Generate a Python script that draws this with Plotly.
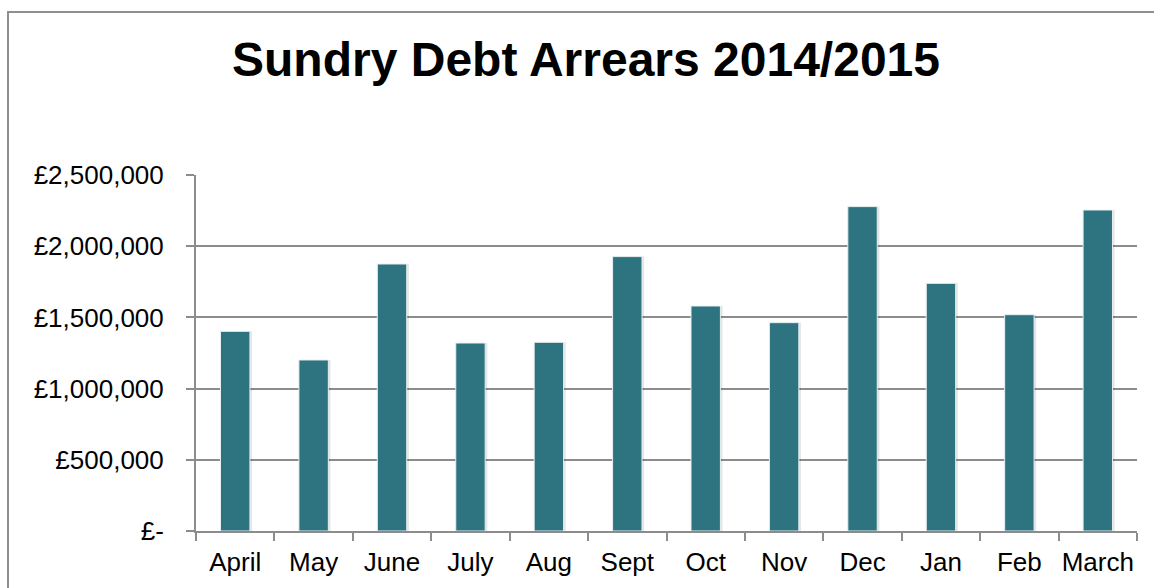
import plotly.graph_objects as go

# Monthly sundry debt arrears, financial year 2014/15
months = ["April", "May", "June", "July", "Aug", "Sept", "Oct", "Nov",
          "Dec", "Jan", "Feb", "March"]
arrears = [1402000, 1201000, 1875000, 1320000, 1325000, 1927000,
           1580000, 1463000, 2278000, 1739000, 1519000, 2254000]

y_ticks = [0, 500000, 1000000, 1500000, 2000000, 2500000]
y_tick_text = ["£-", "£500,000", "£1,000,000", "£1,500,000",
               "£2,000,000", "£2,500,000"]

W, H = 1154, 588
L, R, T, B = 196, 17, 175, 57

FONT = "Liberation Sans, Arial, sans-serif"
BAR = "#2E7480"
AXIS = "#8C8C8C"

fig = go.Figure()

# soft drop shadow behind each column
fig.add_trace(go.Bar(
    x=months, y=arrears,
    marker=dict(color="rgba(0,0,0,0.10)", line=dict(width=0)),
    width=0.40, offset=-0.185,
    hoverinfo="skip", showlegend=False,
))

fig.add_trace(go.Bar(
    x=months, y=arrears,
    marker=dict(color=BAR, line=dict(color="#E6EEF0", width=1)),
    width=0.375, offset=-0.1875,
    showlegend=False,
))

fig.update_layout(
    width=W, height=H,
    margin=dict(l=L, r=R, t=T, b=B, pad=0, autoexpand=False),
    paper_bgcolor="white", plot_bgcolor="white",
    barmode="overlay",
    font=dict(family=FONT, color="#000000", size=26),
    title=dict(
        text="<b>Sundry Debt Arrears 2014/2015</b>",
        font=dict(family=FONT, size=48, color="#000000"),
        x=586 / W, xanchor="center", xref="container",
        y=1 - 59 / H, yanchor="middle", yref="container",
    ),
    xaxis=dict(
        type="category",
        automargin=False,
        tickangle=0,
        showgrid=False,
        showline=True, linecolor=AXIS, linewidth=2,
        ticks="outside", ticklen=8, tickcolor=AXIS, tickwidth=2,
        tickson="boundaries",
        tickfont=dict(family=FONT, size=26, color="#000000"),
        ticklabelstandoff=7,
    ),
    yaxis=dict(
        range=[0, 2500000],
        automargin=False,
        tickvals=y_ticks, ticktext=y_tick_text,
        showgrid=True, gridcolor=AXIS, gridwidth=2,
        showline=True, linecolor=AXIS, linewidth=2,
        ticks="outside", ticklen=8, tickcolor=AXIS, tickwidth=2,
        tickfont=dict(family=FONT, size=26, color="#000000"),
        ticklabelstandoff=17,
        zeroline=False,
    ),
    shapes=[
        # chart frame; right and bottom edges run off the canvas
        dict(type="rect", xref="paper", yref="paper",
             x0=(8 - L) / (W - L - R), x1=(W + 20 - L) / (W - L - R),
             y0=(H - B - (H + 20)) / (H - T - B), y1=(H - B - 12) / (H - T - B),
             line=dict(color="#8E8E8E", width=2), fillcolor="rgba(0,0,0,0)",
             layer="below"),
    ],
)

fig.write_html("out.html")
